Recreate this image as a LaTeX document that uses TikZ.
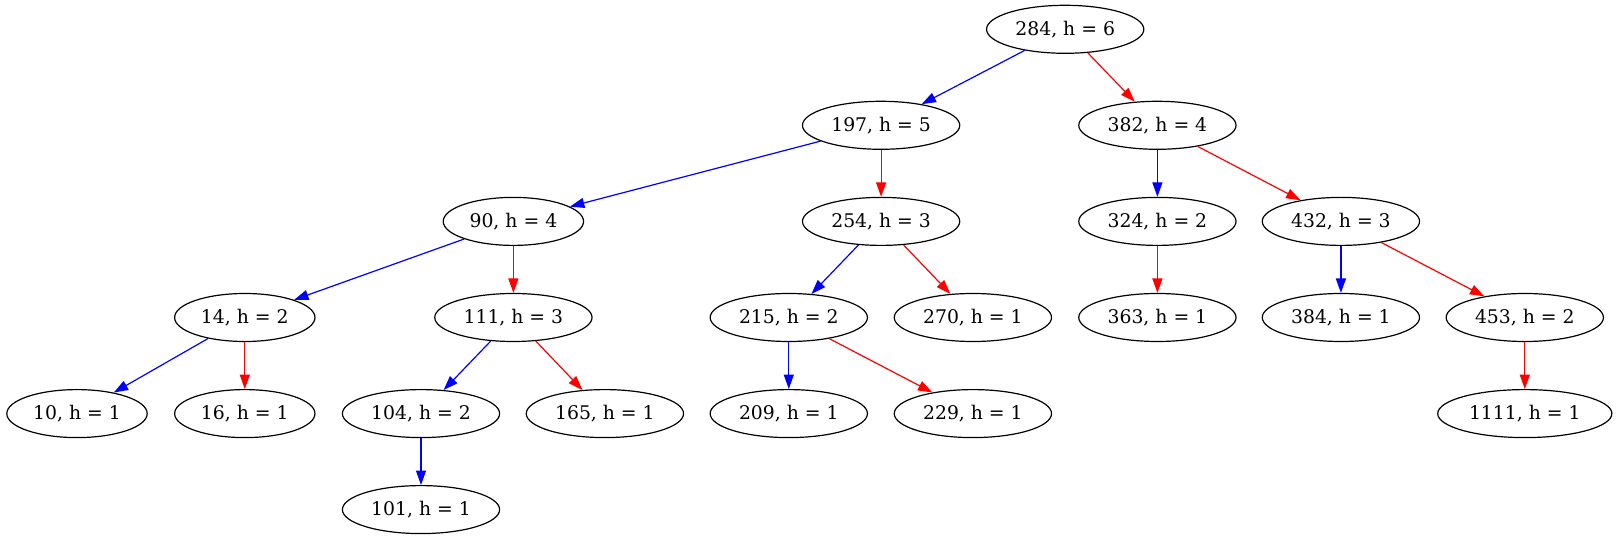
\documentclass[tikz,border=0pt]{standalone}
\usepackage{fontspec}
\setmainfont{DejaVu Serif}
\usetikzlibrary{shapes.geometric,arrows.meta}
\begin{document}
\begin{tikzpicture}[x=0.5pt,y=-0.5pt,
	avl/.style={ellipse,draw,line width=0.6pt,inner xsep=2.9pt,inner ysep=1pt,minimum height=24pt,font=\fontsize{9.4}{11}\selectfont},
	lft/.style={-{Triangle[length=7.2pt,width=5pt]},blue,line width=0.6pt},
	rgt/.style={-{Triangle[length=7.2pt,width=5pt]},red,line width=0.6pt}]
	\useasboundingbox (0,0) rectangle (1618,539);
	\node [avl] (n284) at (1065.2,29.3) {284, h = 6};
	\node [avl] (n197) at (881.1,125.3) {197, h = 5};
	\node [avl] (n382) at (1157.4,125.3) {382, h = 4};
	\node [avl] (n90) at (513.4,221.4) {90, h = 4};
	\node [avl] (n254) at (881.1,221.4) {254, h = 3};
	\node [avl] (n324) at (1157.4,221.4) {324, h = 2};
	\node [avl] (n432) at (1340.9,221.4) {432, h = 3};
	\node [avl] (n14) at (244.8,317.5) {14, h = 2};
	\node [avl] (n111) at (513.4,317.5) {111, h = 3};
	\node [avl] (n215) at (788.8,317.5) {215, h = 2};
	\node [avl] (n270) at (972.9,317.5) {270, h = 1};
	\node [avl] (n363) at (1157.4,317.5) {363, h = 1};
	\node [avl] (n384) at (1340.9,317.5) {384, h = 1};
	\node [avl] (n453) at (1524.8,317.5) {453, h = 2};
	\node [avl] (n10) at (77,413.6) {10, h = 1};
	\node [avl] (n16) at (244.8,413.6) {16, h = 1};
	\node [avl] (n104) at (421,413.6) {104, h = 2};
	\node [avl] (n165) at (604.9,413.6) {165, h = 1};
	\node [avl] (n209) at (788.8,413.6) {209, h = 1};
	\node [avl] (n229) at (972.9,413.6) {229, h = 1};
	\node [avl] (n1111) at (1524.8,413.6) {1111, h = 1};
	\node [avl] (n101) at (421,509.6) {101, h = 1};
	\draw [lft] (n284) -- (n197);
	\draw [rgt] (n284) -- (n382);
	\draw [lft] (n197) -- (n90);
	\draw [rgt] (n197) -- (n254);
	\draw [lft] (n382) -- (n324);
	\draw [rgt] (n382) -- (n432);
	\draw [lft] (n90) -- (n14);
	\draw [rgt] (n90) -- (n111);
	\draw [lft] (n254) -- (n215);
	\draw [rgt] (n254) -- (n270);
	\draw [rgt] (n324) -- (n363);
	\draw [lft] (n432) -- (n384);
	\draw [rgt] (n432) -- (n453);
	\draw [lft] (n14) -- (n10);
	\draw [rgt] (n14) -- (n16);
	\draw [lft] (n111) -- (n104);
	\draw [rgt] (n111) -- (n165);
	\draw [lft] (n215) -- (n209);
	\draw [rgt] (n215) -- (n229);
	\draw [rgt] (n453) -- (n1111);
	\draw [lft] (n104) -- (n101);
\end{tikzpicture}
\end{document}
